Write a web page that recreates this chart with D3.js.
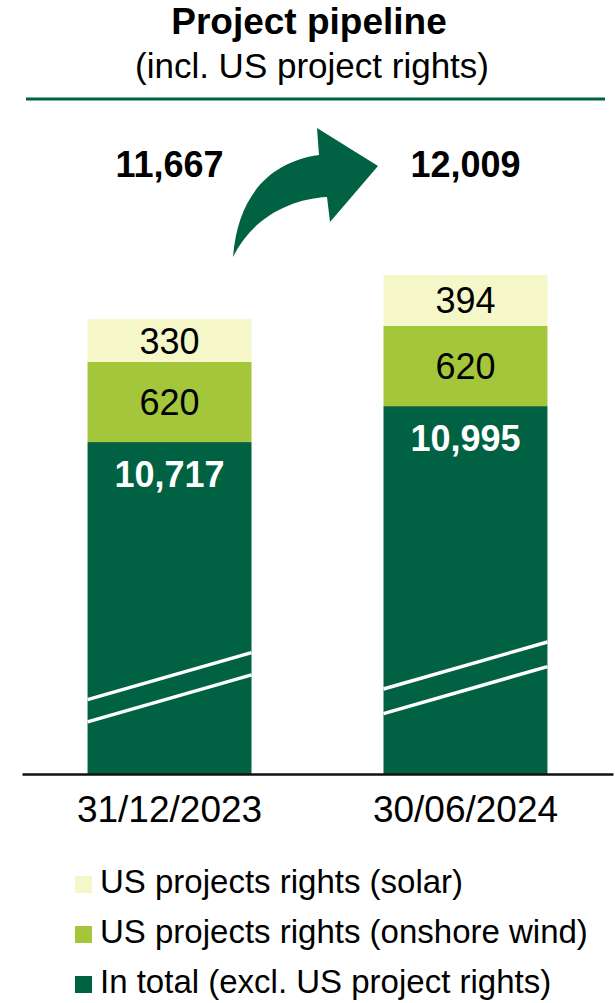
<!DOCTYPE html>
<html>
<head>
<meta charset="utf-8">
<script src="https://cdn.jsdelivr.net/npm/d3@7"></script>
<style>
  body { margin: 0; background: #fff; }
  svg { display: block; font-family: "Liberation Sans", Arial, sans-serif; }
</style>
</head>
<body>
<svg id="chart" width="615" height="1003"></svg>
<script>
// data
const dates = ["31/12/2023", "30/06/2024"];
const inTotal = [10717, 10995];
const onshoreWind = [620, 620];
const solar = [330, 394];
const totals = [11667, 12009];
const seriesKeys = ["inTotal", "onshoreWind", "solar"];
const seriesNames = [
  "In total (excl. US project rights)",
  "US projects rights (onshore wind)",
  "US projects rights (solar)"
];
// axis is cut, the dark bar starts here
const axisStart = 8150;

const colors = { inTotal: "#006242", onshoreWind: "#a4c63a", solar: "#f5f7c8" };
const darkGreen = "#006242";

const svg = d3.select("#chart");
const baseY = 774;

const table = dates.map((d, i) => ({
  date: d,
  inTotal: inTotal[i],
  onshoreWind: onshoreWind[i],
  solar: solar[i]
}));

const stacked = d3.stack().keys(seriesKeys)(table);

const x = d3.scaleBand()
  .domain(dates)
  .range([22, 613])
  .paddingInner(0.446)
  .paddingOuter(0.2215);

const y = d3.scaleLinear()
  .domain([axisStart, d3.max(totals)])
  .range([baseY, 275]);

// title
svg.append("text")
  .attr("x", 309).attr("y", 34)
  .attr("text-anchor", "middle")
  .attr("font-size", 37).attr("font-weight", "bold")
  .text("Project pipeline");
svg.append("text")
  .attr("x", 312).attr("y", 78)
  .attr("text-anchor", "middle")
  .attr("font-size", 35)
  .text("(incl. US project rights)");
svg.append("line")
  .attr("x1", 26).attr("x2", 605)
  .attr("y1", 99).attr("y2", 99)
  .attr("stroke", darkGreen).attr("stroke-width", 3);

// bars
const layers = svg.append("g").selectAll("g")
  .data(stacked)
  .join("g")
  .attr("fill", (d) => colors[d.key]);

layers.selectAll("rect")
  .data((d) => d)
  .join("rect")
  .attr("x", (d) => x(d.data.date))
  .attr("width", x.bandwidth())
  .attr("y", (d) => y(d[1]))
  .attr("height", (d) => Math.min(baseY, y(d[0])) - y(d[1]));

// break lines across the dark bar
const breaks = [0.295, 0.228];
svg.append("g").selectAll("g")
  .data(table)
  .join("g")
  .each(function (d) {
    const x0 = x(d.date), x1 = x0 + x.bandwidth();
    const h = baseY - y(d.inTotal);
    breaks.forEach((f) => {
      const cy = baseY - h * f;
      d3.select(this).append("line")
        .attr("x1", x0).attr("x2", x1)
        .attr("y1", cy + 23.5).attr("y2", cy - 23.5)
        .attr("stroke", "#fff").attr("stroke-width", 3.5);
    });
  });

// segment labels
const labelG = svg.append("g").attr("text-anchor", "middle");
stacked.forEach((layer) => {
  layer.forEach((d) => {
    const cx = x(d.data.date) + x.bandwidth() / 2;
    if (layer.key === "inTotal") {
      labelG.append("text")
        .attr("x", cx).attr("y", y(d[1]) + 45)
        .attr("font-size", 36).attr("font-weight", "bold")
        .attr("fill", "#fff")
        .text(d3.format(",")(d.data.inTotal));
    } else {
      labelG.append("text")
        .attr("x", cx).attr("y", (y(d[0]) + y(d[1])) / 2 + 13)
        .attr("font-size", 36)
        .attr("fill", "#000")
        .text(d.data[layer.key]);
    }
  });
});

// totals
svg.append("g").selectAll("text")
  .data(totals)
  .join("text")
  .attr("x", (d, i) => x(dates[i]) + x.bandwidth() / 2)
  .attr("y", 177)
  .attr("text-anchor", "middle")
  .attr("font-size", 36).attr("font-weight", "bold")
  .text((d) => d3.format(",")(d));

// arrow
svg.append("path")
  .attr("d", "M233,257 C238,195 270,162 319,155 L317,128 L378,166 L330,222 L327,197 C290,199 252,218 233,257 Z")
  .attr("fill", darkGreen);

// x axis
const xAxis = svg.append("g")
  .attr("transform", `translate(0,${baseY})`)
  .call(d3.axisBottom(x).tickSize(0).tickPadding(22));
xAxis.select(".domain").attr("stroke", "#111").attr("stroke-width", 2.5);
xAxis.selectAll("text")
  .attr("font-size", 37)
  .attr("font-family", "Liberation Sans, Arial, sans-serif")
  .attr("fill", "#000")
  .attr("dy", "0.71em");

// legend
const legendKeys = ["solar", "onshoreWind", "inTotal"];
const legend = svg.append("g").selectAll("g")
  .data(legendKeys)
  .join("g")
  .attr("transform", (d, i) => `translate(75,${876 + i * 50})`);
legend.append("rect")
  .attr("width", 17).attr("height", 17)
  .attr("fill", (d) => colors[d]);
legend.append("text")
  .attr("x", 25).attr("y", 17)
  .attr("font-size", 33)
  .text((d) => seriesNames[seriesKeys.indexOf(d)]);
</script>
</body>
</html>
